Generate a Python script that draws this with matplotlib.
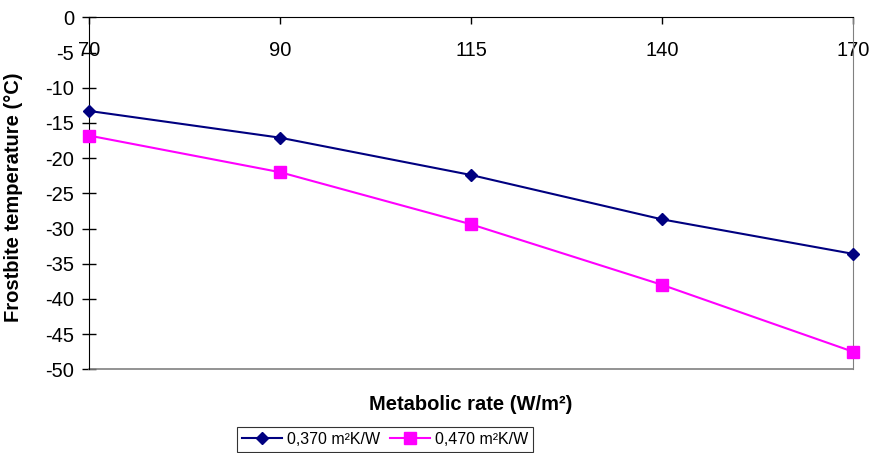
import matplotlib.pyplot as plt

# ===============================
# Data
# ===============================
rates = ["70", "90", "115", "140", "170"]
temp_037 = [-13.3, -17.1, -22.4, -28.7, -33.6]
temp_047 = [-16.8, -22.0, -29.4, -38.0, -47.5]
y_ticks = [0, -5, -10, -15, -20, -25, -30, -35, -40, -45, -50]

plt.rcParams['font.family'] = ['Liberation Sans', 'DejaVu Sans']

fig = plt.figure(figsize=(8.73, 4.53), dpi=100)
ax = fig.add_axes([89 / 873, 1 - 369.3 / 453, 764 / 873, 352 / 453])

xs = list(range(len(rates)))
ax.plot(xs, temp_037, color="#000080", lw=1.5, marker="D", ms=6.5,
        label="0,370 m²K/W", clip_on=False, zorder=3)
ax.plot(xs, temp_047, color="#FF00FF", lw=1.5, marker="s", ms=8,
        label="0,470 m²K/W", clip_on=False, zorder=3)

ax.set_xlim(0, len(rates) - 1)
ax.set_ylim(-50, 0)

# category axis crosses at y = 0 (top of plot)
ax.spines['bottom'].set_position(('data', 0))
ax.spines['bottom'].set_color("black")
ax.spines['top'].set_visible(False)
ax.spines['left'].set_color("black")
ax.spines['right'].set_color("#808080")
ax.axhline(-50, color="#808080", lw=1.2, clip_on=False)

ax.set_xticks(xs)
ax.set_xticklabels(rates)
ax.set_yticks(y_ticks)
ax.set_yticklabels([str(v) for v in y_ticks])
ax.tick_params(axis='x', direction='out', length=5, width=1, pad=12,
               labelsize=14.5)
ax.tick_params(axis='y', direction='inout', length=9.5, width=1, pad=6,
               labelsize=14.5)

ax.set_ylabel("Frostbite temperature (°C)", fontsize=14.5, fontweight="bold")
ax.yaxis.set_label_coords((23 - 89) / 764, 0.49)

fig.text(471 / 873, 1 - 405 / 453, "Metabolic rate (W/m²)", fontsize=14.5,
         fontweight="bold", ha="center", va="center")

leg = fig.legend(loc="upper left", bbox_to_anchor=(237 / 873, 1 - 427 / 453),
                 ncol=2, fontsize=11.5, frameon=True, fancybox=False,
                 edgecolor="black", handlelength=2.5, handletextpad=0.3,
                 columnspacing=0.65, borderpad=0.3, borderaxespad=0)
leg.get_frame().set_linewidth(0.8)

fig.savefig("out.png", dpi=100)
